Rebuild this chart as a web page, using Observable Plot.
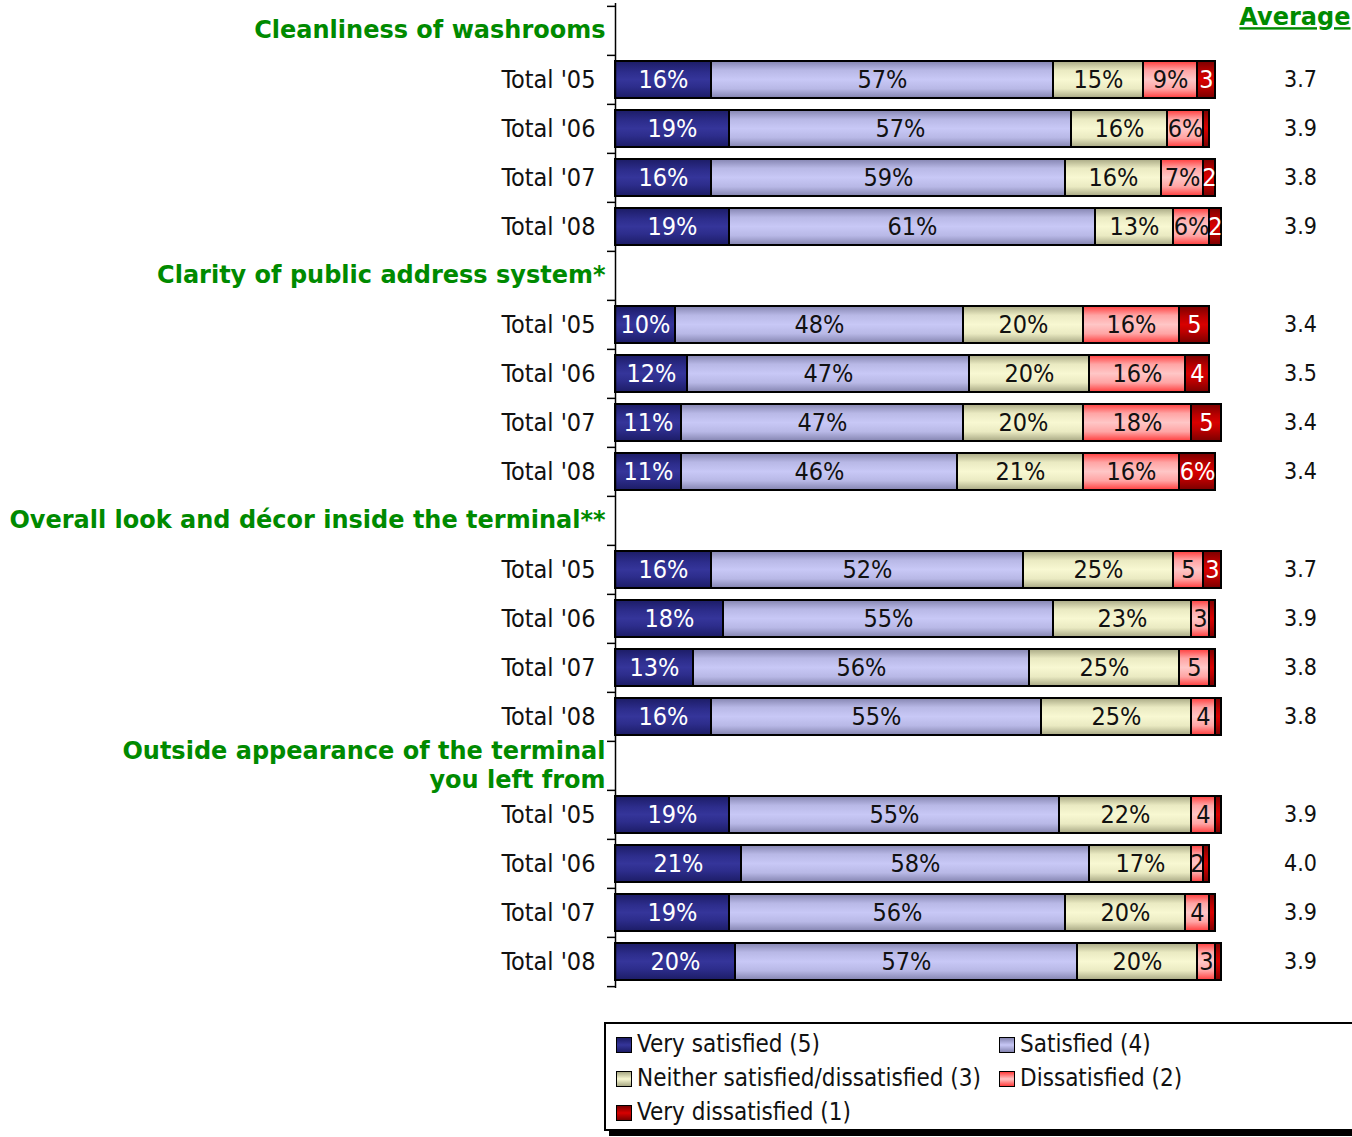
<!DOCTYPE html>
<html>
<head>
<meta charset="utf-8">
<script src="https://cdn.jsdelivr.net/npm/d3@7"></script>
<script src="https://cdn.jsdelivr.net/npm/@observablehq/plot@0.6"></script>
<style>
  html, body { margin: 0; padding: 0; background: #fff; }
  body { width: 1352px; height: 1137px; position: relative; overflow: hidden;
         font-family: Tahoma, "DejaVu Sans Condensed", "Liberation Sans", sans-serif; }
  #chart { position: absolute; left: 0; top: 0; }
  #legend { position: absolute; left: 604px; top: 1022px; width: 780px; height: 105px;
            border: 2px solid #000; box-shadow: 5px 5px 0 #000; background: #fff; }
  .item { position: absolute; font-size: 24px; line-height: 28px; color: #111; white-space: nowrap; }
  .sw { display: inline-block; width: 14px; height: 14px; border: 1.5px solid #000;
        margin-right: 5px; vertical-align: -1px; }
</style>
</head>
<body>
<svg width="0" height="0" style="position:absolute">
  <defs>
    <linearGradient id="grad0" x1="0" y1="0" x2="0" y2="1">
      <stop offset="0" stop-color="#1c1c66"/><stop offset="0.3" stop-color="#2d2d8c"/>
      <stop offset="0.5" stop-color="#35359a"/><stop offset="0.7" stop-color="#2d2d8c"/>
      <stop offset="1" stop-color="#1c1c66"/>
    </linearGradient>
    <linearGradient id="grad1" x1="0" y1="0" x2="0" y2="1">
      <stop offset="0" stop-color="#8484b0"/><stop offset="0.25" stop-color="#b8b8e6"/>
      <stop offset="0.5" stop-color="#c8c8f6"/><stop offset="0.75" stop-color="#b8b8e6"/>
      <stop offset="1" stop-color="#8484b0"/>
    </linearGradient>
    <linearGradient id="grad2" x1="0" y1="0" x2="0" y2="1">
      <stop offset="0" stop-color="#a8a884"/><stop offset="0.25" stop-color="#eaeac2"/>
      <stop offset="0.5" stop-color="#f8f8d2"/><stop offset="0.75" stop-color="#eaeac2"/>
      <stop offset="1" stop-color="#a8a884"/>
    </linearGradient>
    <linearGradient id="grad3" x1="0" y1="0" x2="0" y2="1">
      <stop offset="0" stop-color="#ff3c3c"/><stop offset="0.25" stop-color="#ffa4a4"/>
      <stop offset="0.5" stop-color="#ffc6c6"/><stop offset="0.75" stop-color="#ffa4a4"/>
      <stop offset="1" stop-color="#ff3c3c"/>
    </linearGradient>
    <linearGradient id="grad4" x1="0" y1="0" x2="0" y2="1">
      <stop offset="0" stop-color="#7a0000"/><stop offset="0.3" stop-color="#bb0000"/>
      <stop offset="0.5" stop-color="#d80000"/><stop offset="0.7" stop-color="#bb0000"/>
      <stop offset="1" stop-color="#7a0000"/>
    </linearGradient>
  </defs>
</svg>
<div id="chart"></div>
<div id="legend"></div>
<script>
// ---------- data ----------
const groups = [
  "Cleanliness of washrooms",
  "Clarity of public address system*",
  "Overall look and décor inside the terminal**",
  "Outside appearance of the terminal\nyou left from"
];
const years = ["Total '05", "Total '06", "Total '07", "Total '08"];
const categories = [
  "Very satisfied (5)",
  "Satisfied (4)",
  "Neither satisfied/dissatisfied (3)",
  "Dissatisfied (2)",
  "Very dissatisfied (1)"
];
// values per year: [very satisfied, satisfied, neither, dissatisfied, very dissatisfied]
const washrooms = [[16, 57, 15, 9, 3], [19, 57, 16, 6, 1], [16, 59, 16, 7, 2], [19, 61, 13, 6, 2]];
const clarity   = [[10, 48, 20, 16, 5], [12, 47, 20, 16, 4], [11, 47, 20, 18, 5], [11, 46, 21, 16, 6]];
const decor     = [[16, 52, 25, 5, 3], [18, 55, 23, 3, 1], [13, 56, 25, 5, 1], [16, 55, 25, 4, 1]];
const outside   = [[19, 55, 22, 4, 1], [21, 58, 17, 2, 1], [19, 56, 20, 4, 1], [20, 57, 20, 3, 1]];
const averages  = [[3.7, 3.9, 3.8, 3.9], [3.4, 3.5, 3.4, 3.4], [3.7, 3.9, 3.8, 3.8], [3.9, 4.0, 3.9, 3.9]];
const averageTitle = "Average";

// ---------- styling ----------
const gradients = categories.map((c, i) => `url(#grad${i})`);
const legendCss = [
  "linear-gradient(#1c1c66,#35359a,#1c1c66)",
  "linear-gradient(#8484b0,#c8c8f6,#8484b0)",
  "linear-gradient(#a8a884,#f8f8d2,#a8a884)",
  "linear-gradient(#ff3c3c,#ffc6c6,#ff3c3c)",
  "linear-gradient(#7a0000,#d80000,#7a0000)"
];
const labelColors = ["#ffffff", "#111111", "#111111", "#111111", "#ffffff"];
const green = "#008a00";
const font = 'Tahoma, "DejaVu Sans Condensed", "Liberation Sans", sans-serif';
const boldFont = 'Verdana, "DejaVu Sans", sans-serif';

// ---------- tables ----------
const series = [washrooms, clarity, decor, outside];
const rowIds = [];
const titleRows = [];
const yearRows = [];
const cells = [];
groups.forEach((g, gi) => {
  const tid = `T${gi}`;
  rowIds.push(tid);
  titleRows.push({row: tid, title: g});
  years.forEach((y, yi) => {
    const rid = `R${gi}-${yi}`;
    rowIds.push(rid);
    yearRows.push({row: rid, label: y, avg: averages[gi][yi]});
    series[gi][yi].forEach((v, ci) => {
      cells.push({
        row: rid, ci, cat: categories[ci], value: v,
        label: v >= 6 ? `${v}%` : v >= 2 ? `${v}` : ""
      });
    });
  });
});

// ---------- plot ----------
const W = 1352, H = 1000, mT = 3, mB = 12, mL = 615, mR = 137;
const step = (H - mT - mB) / rowIds.length;

const chart = Plot.plot({
  width: W, height: H,
  marginLeft: mL, marginRight: mR, marginTop: mT, marginBottom: mB,
  x: {domain: [0, 100], axis: null},
  y: {domain: rowIds, axis: null, paddingInner: 0.25, paddingOuter: 0.125},
  color: {type: "identity"},
  style: {fontFamily: font, fontSize: "24px", background: "#fff", color: "#111", overflow: "visible"},
  marks: [
    Plot.barX(cells, Plot.stackX({
      x: "value", y: "row", z: "ci",
      fill: d => gradients[d.ci], stroke: "#000", strokeWidth: 2
    })),
    Plot.text(cells, Plot.stackX({
      x: "value", y: "row", z: "ci", text: "label",
      fill: d => labelColors[d.ci], fontSize: 25
    })),
    Plot.ruleX([0], {stroke: "#000", strokeWidth: 1.5}),
    Plot.ruleY(rowIds, {y: d => d, x1: 0, x2: 0, insetLeft: -8, dy: -step / 2, stroke: "#000", strokeWidth: 1.5}),
    Plot.ruleY(rowIds.slice(-1), {y: d => d, x1: 0, x2: 0, insetLeft: -8, dy: step / 2, stroke: "#000", strokeWidth: 1.5}),
    Plot.text(yearRows, {
      y: "row", text: "label", frameAnchor: "left", textAnchor: "end", dx: -20,
      fill: "#111", fontSize: 25
    }),
    Plot.text(titleRows, {
      y: "row", text: "title", frameAnchor: "left", textAnchor: "end", dx: -10, dy: -2,
      fill: green, fontWeight: "bold", fontFamily: boldFont, fontSize: 24, lineHeight: 1.2
    }),
    Plot.text(yearRows, {
      y: "row", text: d => d.avg.toFixed(1), frameAnchor: "right", textAnchor: "middle", dx: 85,
      fill: "#111", fontSize: 23
    }),
    Plot.text([averageTitle], {
      text: d => d, frameAnchor: "top-right", textAnchor: "end", lineAnchor: "middle", dx: 135, dy: 14,
      fill: green, fontWeight: "bold", fontFamily: boldFont, fontSize: 24
    })
  ]
});
document.getElementById("chart").appendChild(chart);
d3.select(chart).selectAll("text").filter(function() { return this.textContent === averageTitle; })
  .style("text-decoration", "underline");

// ---------- legend ----------
const legend = document.getElementById("legend");
const legendPos = [[10, 6], [393, 6], [10, 40], [393, 40], [10, 74]];
categories.forEach((c, i) => {
  const it = document.createElement("div");
  it.className = "item";
  it.style.left = legendPos[i][0] + "px";
  it.style.top = legendPos[i][1] + "px";
  const sw = document.createElement("span");
  sw.className = "sw";
  sw.style.background = legendCss[i];
  it.appendChild(sw);
  it.appendChild(document.createTextNode(c));
  legend.appendChild(it);
});
</script>
</body>
</html>
